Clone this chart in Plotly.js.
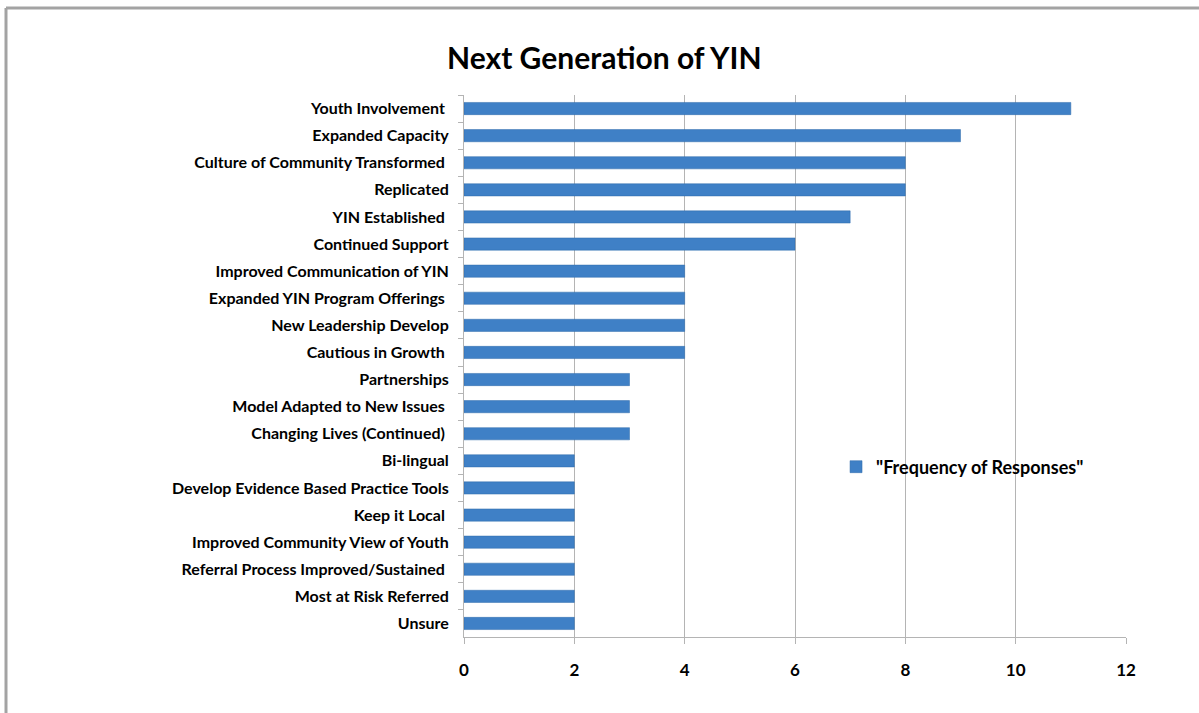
<!DOCTYPE html>
<html>
<head>
<meta charset="utf-8">
<script src="https://cdn.plot.ly/plotly-3.0.1.min.js"></script>
<style>html,body{margin:0;padding:0;background:#fff;}#chart{width:1199px;height:713px;}</style>
</head>
<body>
<div id="chart"></div>
<script>
const categories = [
  "Youth Involvement\u00A0",
  "Expanded Capacity",
  "Culture of Community Transformed\u00A0",
  "Replicated",
  "YIN Established\u00A0",
  "Continued Support",
  "Improved Communication of YIN",
  "Expanded YIN Program Offerings\u00A0",
  "New Leadership Develop",
  "Cautious in Growth\u00A0",
  "Partnerships",
  "Model Adapted to New Issues\u00A0",
  "Changing Lives (Continued)\u00A0",
  "Bi-lingual",
  "Develop Evidence Based Practice Tools",
  "Keep it Local\u00A0",
  "Improved Community View of Youth",
  "Referral Process Improved/Sustained\u00A0",
  "Most at Risk Referred",
  "Unsure"
];
const frequency = [11, 9, 8, 8, 7, 6, 4, 4, 4, 4, 3, 3, 3, 2, 2, 2, 2, 2, 2, 2];
const seriesName = "\"Frequency of Responses\"";
const xTicks = [0, 2, 4, 6, 8, 10, 12];
const chartTitle = "Next Generation of YIN";

const FONT = "Lato, 'Open Sans', sans-serif";

const trace = {
  type: "bar",
  orientation: "h",
  x: frequency,
  y: categories,
  name: seriesName,
  width: 0.45,
  marker: { color: "#3f80c6", line: { color: "#2f6aab", width: 0.5 } },
  showlegend: true,
  hoverinfo: "x+y"
};

const layout = {
  width: 1199,
  height: 713,
  paper_bgcolor: "#ffffff",
  plot_bgcolor: "#ffffff",
  margin: { l: 464, r: 73, t: 95, b: 76, pad: 0 },
  title: {
    text: "<b>" + chartTitle + "</b>",
    font: { family: FONT, size: 30, color: "#000" },
    x: 0.504, xanchor: "center",
    y: 0.918, yanchor: "middle", yref: "container"
  },
  xaxis: {
    range: [0, 12],
    tickvals: xTicks,
    ticktext: xTicks.map(v => "<b>" + v + "</b>"),
    showgrid: true,
    gridcolor: "#b4b4b4",
    gridwidth: 1,
    zeroline: false,
    showline: true,
    linecolor: "#b4b4b4",
    linewidth: 1,
    ticks: "outside",
    ticklen: 6,
    tickcolor: "#b4b4b4",
    ticklabelstandoff: 12,
    tickfont: { family: FONT, size: 17, color: "#000" },
    fixedrange: true
  },
  yaxis: {
    type: "category",
    autorange: "reversed",
    tickson: "boundaries",
    ticks: "outside",
    ticklen: 5,
    tickcolor: "#b4b4b4",
    showline: true,
    linecolor: "#b4b4b4",
    linewidth: 1,
    showgrid: false,
    zeroline: false,
    ticklabelstandoff: 11,
    tickfont: { family: FONT, size: 16, color: "#000", weight: "bold" },
    fixedrange: true
  },
  legend: {
    x: 0.562, xanchor: "left",
    y: 0.3137, yanchor: "middle",
    bgcolor: "rgba(0,0,0,0)",
    font: { family: FONT, size: 18, color: "#000", weight: "bold" },
    itemwidth: 30
  },
  shapes: [
    { type: "line", xref: "paper", yref: "paper",
      x0: (6 - 464) / 662, x1: (1199 - 464) / 662 + 0.01,
      y0: (637 - 8) / 542, y1: (637 - 8) / 542,
      line: { color: "#a3a3a3", width: 3 } },
    { type: "line", xref: "paper", yref: "paper",
      x0: (6 - 464) / 662, x1: (6 - 464) / 662,
      y0: (637 - 8) / 542, y1: (637 - 720) / 542,
      line: { color: "#a3a3a3", width: 3 } }
  ],
  bargap: 0.55
};

Plotly.newPlot("chart", [trace], layout, { displayModeBar: false, staticPlot: true });
</script>
</body>
</html>
